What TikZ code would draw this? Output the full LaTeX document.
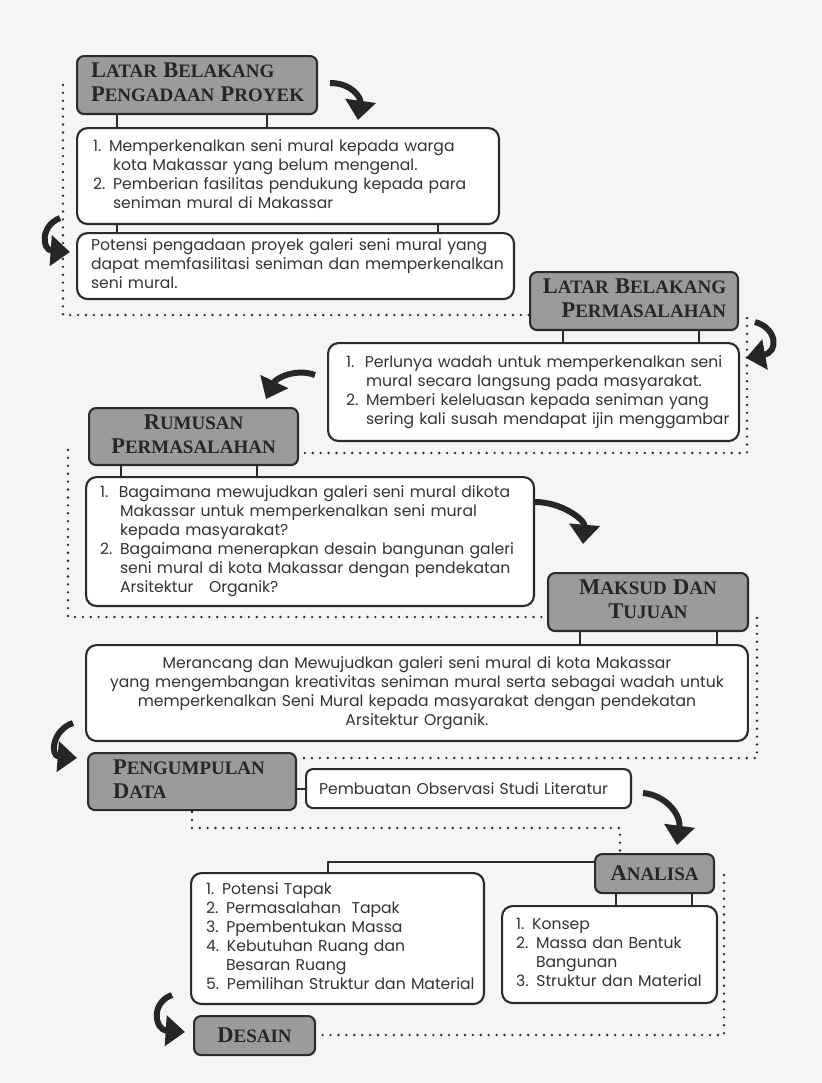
\documentclass[tikz,border=0pt]{standalone}
\usepackage{fontspec}
\setmainfont{Poppins}
\newfontfamily\hdrfont{Liberation Serif}
\usetikzlibrary{arrows.meta}
\definecolor{hdrgray}{HTML}{9B9B9B}
\definecolor{edge}{HTML}{2B2B2B}
\definecolor{ink}{HTML}{333333}
\definecolor{bg}{HTML}{F5F5F5}
\newcommand{\ini}[1]{{\fontsize{12.8}{13.6}\selectfont #1}}
\newcommand{\ind}{\hspace*{0.4cm}}
\newcommand{\rows}[2][l]{\begin{tabular}{@{}#1@{}}#2\end{tabular}}

\tikzset{
  hbox/.style={draw=edge, fill=hdrgray, line width=1.2pt, rounded corners=4pt,
    anchor=north west, inner ysep=0pt, text=black!85,
    font=\hdrfont\bfseries\fontsize{10.8}{13.6}\selectfont},
  tbox/.style={draw=edge, fill=white, line width=1.2pt, rounded corners=6pt,
    anchor=north west, inner ysep=0pt, inner xsep=0.32cm, text=ink, align=left,
    font=\fontsize{8.9}{10.8}\selectfont},
  link/.style={draw=edge, line width=1.2pt},
  dotline/.style={draw=edge, line width=1.5pt, dash pattern=on 0pt off 4.5pt, line cap=round},
  curv/.style={draw=black!85, line width=3.4pt, -{Triangle[length=11pt,width=17pt]}}
}

\begin{document}
\begin{tikzpicture}[x=0.02cm, y=-0.02cm, line join=round]

  \path[use as bounding box, fill=bg] (0,0) rectangle (822,1083);

  \node[hbox, inner xsep=0.28cm, text width=4.24cm, minimum height=1.16cm, align=left] (h1) at (76,55)
    {\rows{\ini{L}ATAR \ini{B}ELAKANG\\ \ini{P}ENGADAAN \ini{P}ROYEK}};
  \node[tbox, text width=7.8cm, minimum height=1.92cm] (b1) at (76,127)
    {\rows{1. Memperkenalkan seni mural kepada warga\\ \ind kota Makassar yang belum mengenal.\\
     2. Pemberian fasilitas pendukung kepada para\\ \ind seniman mural di Makassar}};
  \node[tbox, inner xsep=0.28cm, text width=8.18cm, minimum height=1.32cm] (b2) at (76,232)
    {\rows{Potensi pengadaan proyek galeri seni mural yang\\ dapat memfasilitasi seniman dan memperkenalkan\\ seni mural.}};

  \node[hbox, inner xsep=0.24cm, text width=3.68cm, minimum height=1.16cm, align=right] (h2) at (529,271)
    {\rows[r]{\ini{L}ATAR \ini{B}ELAKANG\\ \ini{P}ERMASALAHAN}};
  \node[tbox, inner xsep=0.36cm, text width=7.5cm, minimum height=1.96cm] (b3) at (327,342)
    {\rows{1.\ \ Perlunya wadah untuk memperkenalkan seni\\ \ind mural secara langsung pada masyarakat.\\
     2. Memberi keleluasan kepada seniman yang\\ \ind sering kali susah mendapat ijin menggambar}};

  \node[hbox, inner xsep=0.2cm, text width=3.78cm, minimum height=1.14cm, align=center] (h3) at (88,407)
    {\rows[c]{\ini{R}UMUSAN\\ \ini{P}ERMASALAHAN}};
  \node[tbox, inner xsep=0.28cm, text width=8.4cm, minimum height=2.58cm] (b4) at (85,476)
    {\rows{1.\ \ Bagaimana mewujudkan galeri seni mural dikota\\ \ind Makassar untuk memperkenalkan seni mural\\ \ind kepada masyarakat?\\
     2. Bagaimana menerapkan desain bangunan galeri\\ \ind seni mural di kota Makassar dengan pendekatan\\ \ind Arsitektur\ \ \ Organik?}};

  \node[hbox, inner xsep=0.2cm, text width=3.6cm, minimum height=1.16cm, align=center] (h4) at (547,572)
    {\rows[c]{\ini{M}AKSUD \ini{D}AN\\ \ini{T}UJUAN}};
  \node[tbox, inner xsep=0.2cm, text width=12.84cm, minimum height=1.92cm, align=center] (b5) at (85,644)
    {\rows[c]{Merancang dan Mewujudkan galeri seni mural di kota Makassar\\
     yang mengembangan kreativitas seniman mural serta sebagai wadah untuk\\
     memperkenalkan Seni Mural kepada masyarakat dengan pendekatan\\ Arsitektur Organik.}};

  \node[hbox, inner xsep=0.5cm, text width=3.16cm, minimum height=1.14cm, align=left] (h5) at (87,752)
    {\rows{\ini{P}ENGUMPULAN\\ \ini{D}ATA}};
  \node[tbox, inner xsep=0.26cm, text width=5.98cm, minimum height=0.78cm, rounded corners=4pt] (b6) at (305,768)
    {Pembuatan Observasi Studi Literatur};

  \node[hbox, inner xsep=0.1cm, text width=2.18cm, minimum height=0.78cm, align=center] (h6) at (594,853)
    {\ini{A}NALISA};
  \node[tbox, inner xsep=0.3cm, text width=5.26cm, minimum height=2.62cm] (b7) at (190,872)
    {\rows{1. Potensi Tapak\\ 2. Permasalahan\ \ Tapak\\ 3. Ppembentukan Massa\\ 4. Kebutuhan Ruang dan\\
     \ind Besaran Ruang\\ 5. Pemilihan Struktur dan Material}};
  \node[tbox, inner xsep=0.28cm, text width=3.74cm, minimum height=1.94cm] (b8) at (501,905)
    {\rows{1. Konsep\\ 2. Massa dan Bentuk\\ \ind Bangunan\\ 3. Struktur dan Material}};

  \node[hbox, inner xsep=0.1cm, text width=2.22cm, minimum height=0.78cm, align=center] (h7) at (193,1015)
    {\ini{D}ESAIN};

  \foreach \x in {117,267} \draw[link] (\x,0 |- h1.south) -- (\x,0 |- b1.north);
  \foreach \x in {117,438} \draw[link] (\x,0 |- b1.south) -- (\x,0 |- b2.north);
  \foreach \x in {563,699} \draw[link] (\x,0 |- h2.south) -- (\x,0 |- b3.north);
  \foreach \x in {121,257} \draw[link] (\x,0 |- h3.south) -- (\x,0 |- b4.north);
  \foreach \x in {580,717} \draw[link] (\x,0 |- h4.south) -- (\x,0 |- b5.north);
  \foreach \x in {616,692} \draw[link] (\x,0 |- h6.south) -- (\x,0 |- b8.north);
  \draw[link] (b6.west -| h5.east) -- (b6.west);
  \draw[link] (h6.west |- 0,862) -| (328,0 |- b7.north);

  \coordinate (d1a) at (63,85);   \coordinate (d1b) at (63,315);
  \coordinate (d2a) at (747,318); \coordinate (d2b) at (747,453);
  \coordinate (d3a) at (68,450);  \coordinate (d3b) at (68,617);
  \coordinate (d4a) at (757,618); \coordinate (d4b) at (757,758);
  \coordinate (d5a) at (192,812); \coordinate (d5b) at (192,828); \coordinate (d5c) at (620,828);
  \coordinate (d6a) at (724,875); \coordinate (d6b) at (724,1035);

  \draw[dotline] (d1a) -- (d1b) -- (d1b -| h2.west);
  \draw[dotline] (d2a) -- (d2b) -- (d2b -| h3.east);
  \draw[dotline] (d3a) -- (d3b) -- (d3b -| h4.west);
  \draw[dotline] (d4a) -- (d4b) -- (d4b -| h5.east);
  \draw[dotline] (d5a) -- (d5b) -- (d5c) -- (d5c |- h6.north);
  \draw[dotline] (d6a) -- (d6b) -- (d6b -| h7.east);

  \coordinate (ip1) at (330,83);  \coordinate (ip2) at (358,120);
  \coordinate (ip3) at (60,218);  \coordinate (ip4) at (70,252);
  \coordinate (ip5) at (755,322); \coordinate (ip6) at (746,358);
  \coordinate (ip7) at (315,375); \coordinate (ip8) at (266,399);
  \coordinate (ip9) at (535,502); \coordinate (ip10) at (583,544);
  \coordinate (ip11) at (73,723); \coordinate (ip12) at (77,758);
  \coordinate (ip13) at (643,793); \coordinate (ip14) at (677,845);
  \coordinate (ip15) at (172,995); \coordinate (ip16) at (185,1032);

  \draw[curv] (ip1) .. controls (352,83) and (361,98) .. (ip2);
  \draw[curv] (ip3) .. controls (40,226) and (42,250) .. (ip4);
  \draw[curv] (ip5) .. controls (777,328) and (779,352) .. (ip6);
  \draw[curv] (ip7) .. controls (296,368) and (276,378) .. (ip8);
  \draw[curv] (ip9) .. controls (562,502) and (585,520) .. (ip10);
  \draw[curv] (ip11) .. controls (52,730) and (50,756) .. (ip12);
  \draw[curv] (ip13) .. controls (666,795) and (681,815) .. (ip14);
  \draw[curv] (ip15) .. controls (150,1003) and (155,1030) .. (ip16);

\end{tikzpicture}
\end{document}
